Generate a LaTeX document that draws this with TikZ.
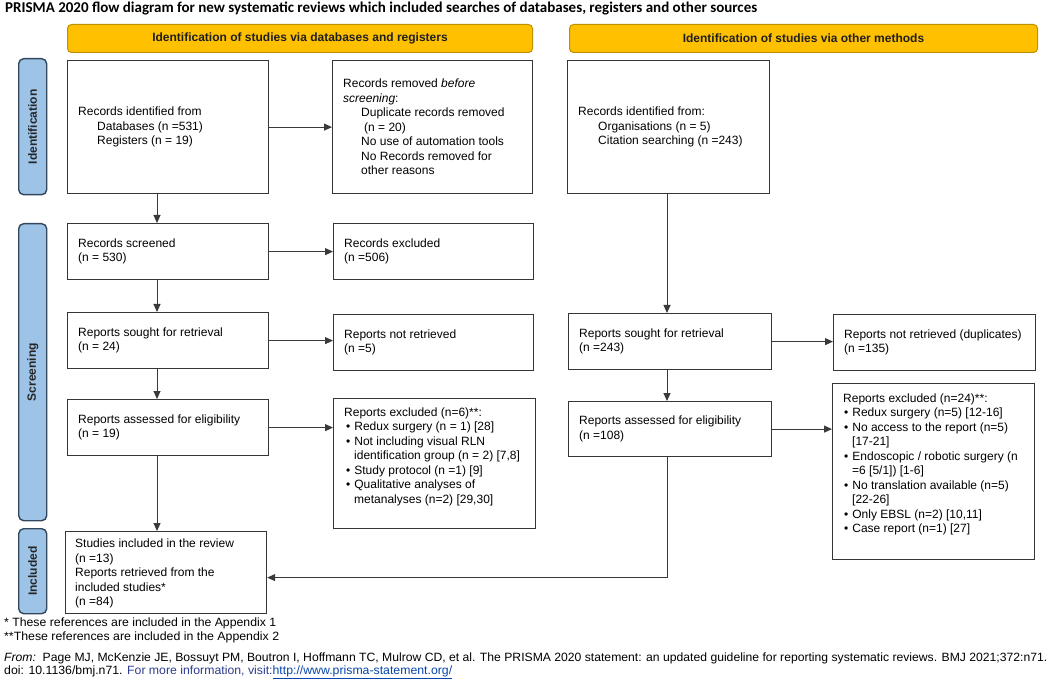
\documentclass[tikz,border=0pt]{standalone}
\usepackage{fontspec}
\usepackage{graphicx}
\setmainfont{Liberation Sans}
\newfontfamily\titlefont{Carlito}
\usetikzlibrary{arrows.meta}
\definecolor{hdrfill}{HTML}{FFC000}
\definecolor{hdrdraw}{HTML}{BF9000}
\definecolor{sidefill}{HTML}{9DC3E6}
\definecolor{sidedraw}{HTML}{33475C}
\definecolor{boxdraw}{HTML}{363636}
\definecolor{arrdraw}{HTML}{3A3A3A}
\definecolor{infoblue}{HTML}{2E3D8F}
\definecolor{linkblue}{HTML}{0645AD}
\newcommand\pbul{\hspace*{2pt}\textbullet\hspace*{4pt}}
\newcommand\pind{\hspace*{10pt}}
\newcommand\mbul{\hspace*{1pt}\textbullet\hspace*{4pt}}
\newcommand\mind{\hspace*{9pt}}
\newcommand\cind{\makebox[20pt]{}}
\begin{document}
\begin{tikzpicture}[x=1pt,y=-1pt,
  box/.style={draw=boxdraw, line width=1.2pt, fill=white, anchor=north west, inner sep=0pt},
  t/.style={font=\fontsize{12}{14.5}\selectfont, align=left, inner sep=0pt, anchor=west, text=black},
  arr/.style={draw=arrdraw, line width=1pt, -{Triangle[length=8pt,width=7pt]}},
  hdr/.style={draw=hdrdraw, fill=hdrfill, rounded corners=4pt, line width=1pt, anchor=north west, inner sep=0pt},
  hdrtxt/.style={font=\fontsize{12}{14}\selectfont\bfseries, text=black!88, inner sep=0pt},
  side/.style={draw=sidedraw, fill=sidefill, rounded corners=5pt, line width=1.4pt, anchor=north west, inner sep=0pt},
  sidetxt/.style={font=\fontsize{12}{14}\selectfont\bfseries, text=black!85, rotate=90, inner sep=0pt},
  foot/.style={font=\fontsize{12}{14}\selectfont, anchor=west, inner sep=0pt, text=black}
]
\useasboundingbox (0,0) rectangle (1053,687);
\fill[white] (0,0) rectangle (1053,687);

% title
\node[anchor=west, inner sep=0pt] (title) at (5,9) {\resizebox{752pt}{!}{\titlefont\bfseries\fontsize{12}{14}\selectfont PRISMA 2020 flow diagram for new systematic reviews which included searches of databases, registers and other sources}};

% headers
\node[hdr, minimum width=465pt, minimum height=28pt] (h1) at (67,24) {};
\node[hdrtxt] (h1t) at (h1) {Identification of studies via databases and registers};
\node[hdr, minimum width=468pt, minimum height=28pt] (h2) at (569,24) {};
\node[hdrtxt] (h2t) at (h2) {Identification of studies via other methods};

% side bars
\node[side, minimum width=28pt, minimum height=136pt] (s1) at (18,58) {};
\node[sidetxt] (s1t) at (s1) {Identification};
\node[side, minimum width=28pt, minimum height=297pt] (s2) at (18,223) {};
\node[sidetxt] (s2t) at (s2) {Screening};
\node[side, minimum width=28pt, minimum height=85pt] (s3) at (18,528) {};
\node[sidetxt] (s3t) at (s3) {Included};

% boxes
\node[box, minimum width=201pt, minimum height=133pt] (A) at (67,60) {};
\node[box, minimum width=200pt, minimum height=133pt] (B) at (332,60) {};
\node[box, minimum width=202pt, minimum height=133pt] (C) at (567,60) {};
\node[box, minimum width=201pt, minimum height=56pt] (D) at (67,223) {};
\node[box, minimum width=200pt, minimum height=56pt] (Dx) at (333,223) {};
\node[box, minimum width=201pt, minimum height=56pt] (E) at (67,312) {};
\node[box, minimum width=200pt, minimum height=56pt] (F) at (333,314) {};
\node[box, minimum width=201pt, minimum height=56pt] (G) at (67,399) {};
\node[box, minimum width=202pt, minimum height=130pt] (H) at (333,398) {};
\node[box, minimum width=201pt, minimum height=82pt] (I) at (65,531) {};
\node[box, minimum width=203pt, minimum height=56pt] (J) at (568,313) {};
\node[box, minimum width=202pt, minimum height=56pt] (K) at (833,314) {};
\node[box, minimum width=203pt, minimum height=55pt] (L) at (568,401) {};
\node[box, minimum width=202pt, minimum height=176pt] (M) at (832,383) {};

% texts
\node[t] (tA) at ([xshift=11pt]A.west) {Records identified from\\\hspace*{19pt}Databases (n =531)\\\hspace*{19pt}Registers (n = 19)};
\node[t] (tB) at ([xshift=11pt]B.west) {Records removed \textit{before}\\\textit{screening}:\\\hspace*{18pt}Duplicate records removed\\\hspace*{21pt}(n = 20)\\\hspace*{18pt}No use of automation tools\\\hspace*{18pt}No Records removed for\\\hspace*{18pt}other reasons};
\node[t] (tC) at ([xshift=11pt]C.west) {Records identified from:\\\cind Organisations (n = 5)\\\cind Citation searching (n =243)};
\node[t] (tD) at ([xshift=11pt]D.west) {Records screened\\(n = 530)};
\node[t] (tDx) at ([xshift=11pt]Dx.west) {Records excluded\\(n =506)};
\node[t] (tE) at ([xshift=11pt]E.west) {Reports sought for retrieval\\(n = 24)};
\node[t] (tF) at ([xshift=11pt]F.west) {Reports not retrieved\\(n =5)};
\node[t] (tG) at ([xshift=11pt]G.west) {Reports assessed for eligibility\\(n = 19)};
\node[t] (tH) at ([xshift=11pt,yshift=7pt]H.west) {Reports excluded (n=6)**:\\\pbul Redux surgery (n = 1) [28]\\\pbul Not including visual RLN\\\pind identification group (n = 2) [7,8]\\\pbul Study protocol (n =1) [9]\\\pbul Qualitative analyses of\\\pind metanalyses (n=2) [29,30]};
\node[t] (tI) at ([xshift=10pt,yshift=-1pt]I.west) {Studies included in the review\\(n =13)\\Reports retrieved from the\\included studies*\\(n =84)};
\node[t] (tJ) at ([xshift=11pt]J.west) {Reports sought for retrieval\\(n =243)};
\node[t] (tK) at ([xshift=11pt]K.west) {Reports not retrieved (duplicates)\\(n =135)};
\node[t] (tL) at ([xshift=11pt]L.west) {Reports assessed for eligibility\\(n =108)};
\node[t] (tM) at ([xshift=11pt,yshift=7pt]M.west) {Reports excluded (n=24)**:\\\mbul Redux surgery (n=5) [12-16]\\\mbul No access to the report (n=5)\\\mind [17-21]\\\mbul Endoscopic / robotic surgery (n\\\mind =6 [5/1]) [1-6]\\\mbul No translation available (n=5)\\\mind [22-26]\\\mbul Only EBSL (n=2) [10,11]\\\mbul Case report (n=1) [27]};

% connectors
\coordinate (cl) at (157,0);
\coordinate (cr) at (667,0);
\draw[arr] (A.south -| cl) -- (D.north -| cl);
\draw[arr] (D.south -| cl) -- (E.north -| cl);
\draw[arr] (E.south -| cl) -- (G.north -| cl);
\draw[arr] (G.south -| cl) -- (I.north -| cl);
\draw[arr] (A.east) -- (A.east -| B.west);
\draw[arr] (D.east) -- (D.east -| Dx.west);
\draw[arr] (E.east) -- (E.east -| F.west);
\draw[arr] (G.east) -- (G.east -| H.west);
\draw[arr] (C.south -| cr) -- (J.north -| cr);
\draw[arr] (J.south -| cr) -- (L.north -| cr);
\draw[arr] (J.east) -- (J.east -| K.west);
\draw[arr] (L.east) -- (L.east -| M.west);
\draw[arr] (L.south -| cr) |- ([yshift=-5pt]I.east);

% footnotes
\node[foot] (fn1) at (4,623) {\resizebox{272pt}{\height}{* These references are included in the Appendix 1}};
\node[foot] (fn2) at (4,637) {\resizebox{275pt}{\height}{**These references are included in the Appendix 2}};
\node[foot] (fn3) at (4,658) {\resizebox{1043pt}{\height}{\textit{From:}\ \ Page MJ, McKenzie JE, Bossuyt PM, Boutron I, Hoffmann TC, Mulrow CD, et al. The PRISMA 2020 statement: an updated guideline for reporting systematic reviews. BMJ 2021;372:n71.}};
\node[foot] (fn4) at (4,672) {\resizebox{448pt}{\height}{doi: 10.1136/bmj.n71. \textcolor{infoblue}{For more information, visit:}\textcolor{linkblue}{\underline{http://www.prisma-statement.org/}}}};
\end{tikzpicture}
\end{document}
